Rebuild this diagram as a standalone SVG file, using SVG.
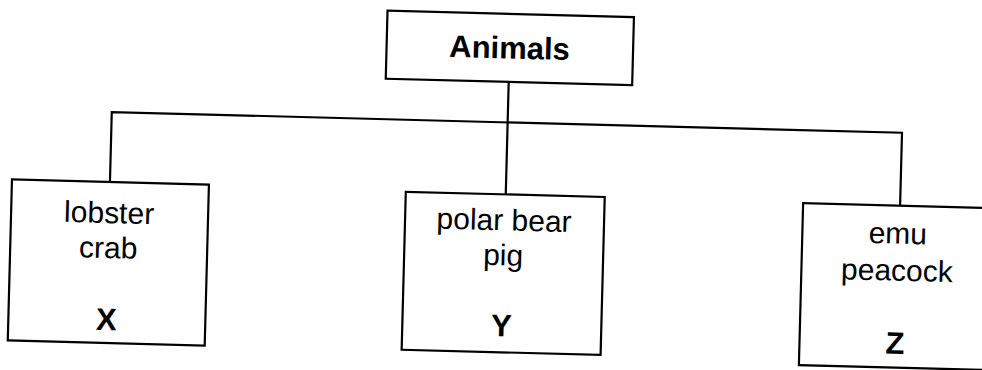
<svg xmlns="http://www.w3.org/2000/svg" width="982" height="370" viewBox="0 0 982 370">
<style>
.box{fill:#fff;stroke:#000;stroke-width:2.2}
.ln{fill:none;stroke:#000;stroke-width:2.2}
.t{font-family:"Liberation Sans",Arial,sans-serif;font-size:30px;text-anchor:middle;fill:#000}
.b{font-weight:bold;font-size:31px}
</style>
<rect width="982" height="370" fill="#fff"/>
<g transform="rotate(1.5 491 185)">
<g id="connectors">
<path class="ln" d="M506 81.5V194"/>
<path class="ln" d="M110 192V122H900.5V195"/>
</g>
<g id="animals">
<rect class="box" x="383" y="13.5" width="246.5" height="68"/>
<text class="t b" x="506" y="58">Animals</text>
</g>
<g id="x">
<rect class="box" x="12" y="192" width="197" height="161"/>
<text class="t" x="110" y="233">lobster</text>
<text class="t" x="110" y="268">crab</text>
<text class="t b" x="110" y="340">X</text>
</g>
<g id="y">
<rect class="box" x="406" y="194" width="199" height="158"/>
<text class="t" x="505" y="230">polar bear</text>
<text class="t" x="505" y="265">pig</text>
<text class="t b" x="505" y="336">Y</text>
</g>
<g id="z">
<rect class="box" x="803.5" y="195" width="198" height="162"/>
<text class="t" x="899" y="233">emu</text>
<text class="t" x="899" y="270">peacock</text>
<text class="t b" x="899" y="343">Z</text>
</g>
</g>
</svg>
